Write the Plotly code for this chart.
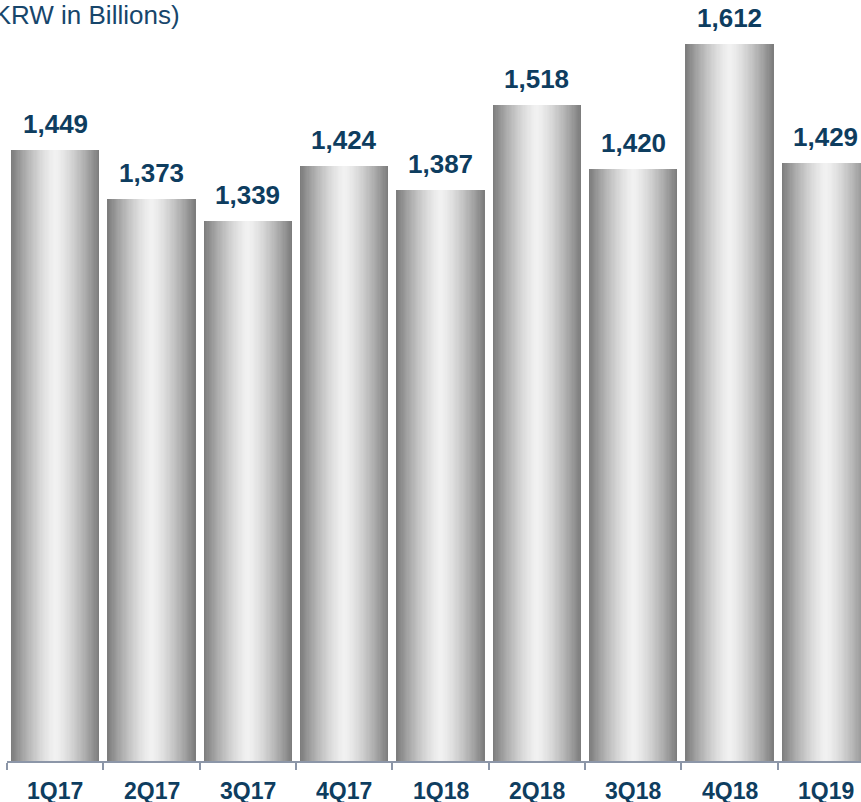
import plotly.graph_objects as go

categories = ["1Q17", "2Q17", "3Q17", "4Q17", "1Q18", "2Q18", "3Q18", "4Q18", "1Q19"]
values = [1449, 1373, 1339, 1424, 1387, 1518, 1420, 1612, 1429]
value_labels = ["1,449", "1,373", "1,339", "1,424", "1,387", "1,518", "1,420", "1,612", "1,429"]
unit_title = "(KRW in Billions)"

W, H = 861, 802
fig = go.Figure()

# Simulated horizontal metallic gradient: overlaid bars of decreasing width
K = 36
full_w = 0.914
for k in range(K):
    f = 1 - k / K
    g = int(round(242 - 117 * (f ** 1.4)))
    col = f"rgb({g},{g},{g})"
    fig.add_trace(go.Bar(
        x=categories, y=values, width=full_w * f,
        marker=dict(color=col, line=dict(width=0)),
        hoverinfo="skip", showlegend=False,
    ))

navy = "#0e3d5f"
for c, v, t in zip(categories, values, value_labels):
    fig.add_annotation(x=c, y=v, text=f"<b>{t}</b>", showarrow=False,
                       yanchor="middle", yshift=26,
                       font=dict(family="Liberation Sans, Arial", size=26, color=navy))
    # category label under the axis
    fig.add_annotation(x=c, xref="x", y=0, yref="paper", text=f"<b>{c}</b>", showarrow=False,
                       yanchor="middle", yshift=-30, height=22, valign="middle", borderpad=0,
                       font=dict(family="Liberation Sans, Arial", size=23, color=navy))

fig.add_annotation(xref="paper", yref="paper", x=(182 - 7) / (W - 7), y=1 - 15 / 761,
                   xanchor="right", yanchor="middle", text=unit_title, showarrow=False,
                   font=dict(family="Liberation Sans, Arial", size=26, color="#17466b"))

fig.update_layout(
    width=W, height=H, barmode="overlay", bargap=0,
    margin=dict(l=7, r=0, t=0, b=H - 761),
    paper_bgcolor="white", plot_bgcolor="white",
    xaxis=dict(type="category", range=[-0.5, 8.5 - 13 / 96.3], showgrid=False, automargin=False,
               showline=True, linecolor="#8c96a8", linewidth=1.5, showticklabels=False,
               ticks="outside", tickson="boundaries", ticklen=7, tickcolor="#8c96a8", tickwidth=1.5),
    yaxis=dict(range=[509, 1679.7], visible=False, showgrid=False, zeroline=False, automargin=False),
)

fig.write_html("out.html", config={"displayModeBar": False},
               post_script="document.body.style.margin='0';document.body.style.overflow='hidden';")
